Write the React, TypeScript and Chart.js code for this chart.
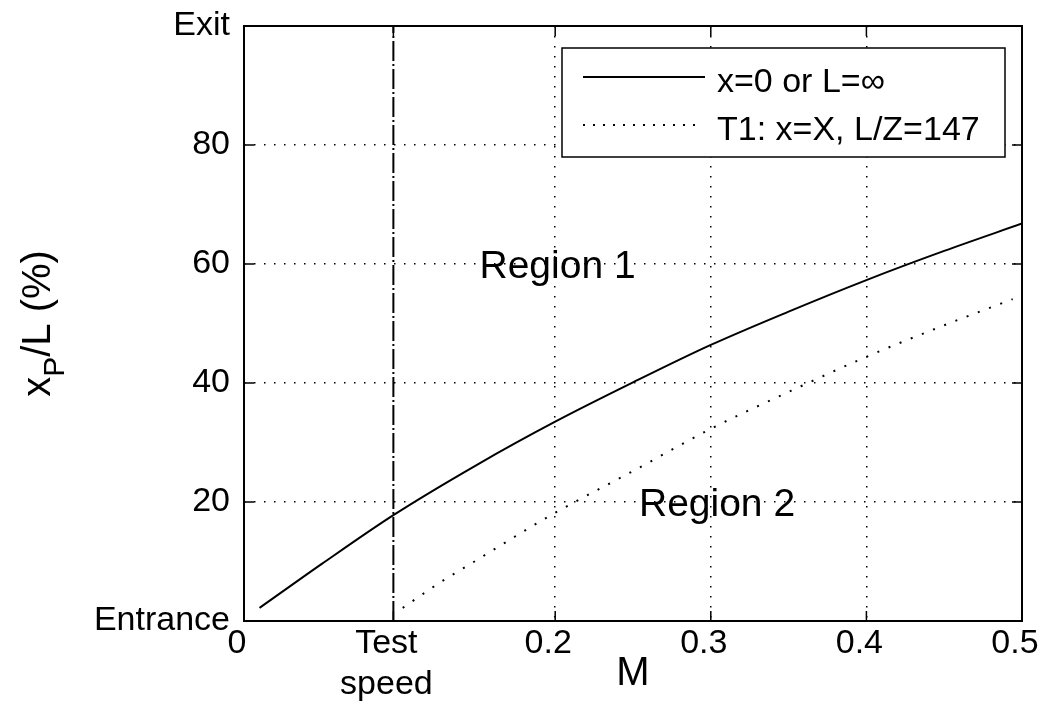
import React, { useEffect, useRef } from 'react';
import { Chart, registerables } from 'chart.js';

Chart.register(...registerables);

// ---- data ----
const mSolid = [0.01, 0.05, 0.096, 0.15, 0.2, 0.25, 0.3, 0.35, 0.4, 0.45, 0.5];
const pSolid = [2.2, 9.6, 17.8, 26.3, 33.5, 40.1, 46.4, 52.0, 57.3, 62.2, 66.8];

const mDotted = [0.102, 0.125, 0.15, 0.183, 0.2, 0.25, 0.3, 0.35, 0.4, 0.45, 0.494];
const pDotted = [2.2, 6.3, 10.3, 15.6, 18.2, 25.2, 32.3, 38.5, 44.4, 49.7, 54.1];

const testSpeed = 0.096;
const testLineY = [0, 100];

const xTickValues = [0, 0.096, 0.2, 0.3, 0.4, 0.5];
const xTickLabels: (string | string[])[] = ['0', ['Test', 'speed'], '0.2', '0.3', '0.4', '0.5'];
const xGridValues = [0.2, 0.3, 0.4];

const yTickValues = [0, 20, 40, 60, 80, 100];
const yTickLabels = ['Entrance', '20', '40', '60', '80', 'Exit'];
const yGridValues = [20, 40, 60, 80];

const legendLabels = ['x=0 or L=\u221E', 'T1: x=X, L/Z=147'];
const regionLabels = ['Region 1', 'Region 2'];
const regionM = [0.2015, 0.304];
const regionP = [60, 20];

const xTitle = 'M';
const yTitleParts = ['x', 'P', '/L (%)'];

const FONT = '"Liberation Sans", Arial, sans-serif';

const decorPlugin = {
  id: 'decor',
  afterDraw(chart: any) {
    const { ctx, chartArea } = chart;
    const xs = chart.scales.x;
    const ys = chart.scales.y;
    const { left, right, top, bottom } = chartArea;

    ctx.save();
    // axes box
    ctx.strokeStyle = '#000';
    ctx.lineWidth = 2;
    ctx.setLineDash([]);
    ctx.strokeRect(left, top, right - left, bottom - top);

    // inward tick marks
    ctx.lineWidth = 1.5;
    const tl = 10;
    ctx.beginPath();
    xTickValues.forEach((v) => {
      const px = xs.getPixelForValue(v);
      ctx.moveTo(px, bottom);
      ctx.lineTo(px, bottom - tl);
      ctx.moveTo(px, top);
      ctx.lineTo(px, top + tl);
    });
    yTickValues.forEach((v) => {
      const py = ys.getPixelForValue(v);
      ctx.moveTo(left, py);
      ctx.lineTo(left + tl, py);
      ctx.moveTo(right, py);
      ctx.lineTo(right - tl, py);
    });
    ctx.stroke();

    // region labels
    ctx.fillStyle = '#000';
    ctx.font = `39px ${FONT}`;
    ctx.textAlign = 'center';
    ctx.textBaseline = 'alphabetic';
    regionLabels.forEach((t, i) => {
      const px = xs.getPixelForValue(regionM[i]);
      const py = ys.getPixelForValue(regionP[i]);
      ctx.fillText(t, px, py + 14);
    });

    // legend
    const bx = right - 17;
    const lx = bx - 443;
    const ty = top + 22;
    ctx.fillStyle = '#fff';
    ctx.fillRect(lx, ty, 443, 109);
    ctx.strokeStyle = '#000';
    ctx.lineWidth = 1.5;
    ctx.strokeRect(lx, ty, 443, 109);

    ctx.lineWidth = 2;
    ctx.beginPath();
    ctx.moveTo(lx + 21, ty + 29);
    ctx.lineTo(lx + 143, ty + 29);
    ctx.stroke();

    ctx.setLineDash([2, 8]);
    ctx.beginPath();
    ctx.moveTo(lx + 21, ty + 77);
    ctx.lineTo(lx + 141, ty + 77);
    ctx.stroke();
    ctx.setLineDash([]);

    ctx.fillStyle = '#000';
    ctx.font = `34px ${FONT}`;
    ctx.textAlign = 'left';
    ctx.fillText(legendLabels[0], lx + 155, ty + 44);
    ctx.fillText(legendLabels[1], lx + 155, ty + 92);

    // y title with subscript
    ctx.translate(50, (top + bottom) / 2);
    ctx.rotate(-Math.PI / 2);
    ctx.font = `40px ${FONT}`;
    const w1 = ctx.measureText(yTitleParts[0]).width;
    const w3 = ctx.measureText(yTitleParts[2]).width;
    ctx.font = `30px ${FONT}`;
    const w2 = ctx.measureText(yTitleParts[1]).width;
    let x0 = -(w1 + w2 + w3) / 2;
    ctx.font = `40px ${FONT}`;
    ctx.fillText(yTitleParts[0], x0, 0);
    x0 += w1;
    ctx.font = `30px ${FONT}`;
    ctx.fillText(yTitleParts[1], x0, 14);
    x0 += w2;
    ctx.font = `40px ${FONT}`;
    ctx.fillText(yTitleParts[2], x0, 0);

    ctx.restore();
  },
};

export default function App() {
  const ref = useRef<HTMLCanvasElement | null>(null);

  useEffect(() => {
    if (!ref.current) return;
    const chart = new Chart(ref.current, {
      type: 'line',
      data: {
        datasets: [
          {
            label: legendLabels[0],
            data: mSolid.map((m, i) => ({ x: m, y: pSolid[i] })),
            borderColor: '#000',
            borderWidth: 2,
            pointRadius: 0,
            cubicInterpolationMode: 'monotone',
          },
          {
            label: legendLabels[1],
            data: mDotted.map((m, i) => ({ x: m, y: pDotted[i] })),
            borderColor: '#000',
            borderWidth: 2,
            borderDash: [2, 10],
            pointRadius: 0,
            cubicInterpolationMode: 'monotone',
          },
          {
            label: 'Test speed',
            data: testLineY.map((y) => ({ x: testSpeed, y })),
            borderColor: '#000',
            borderWidth: 2,
            borderDash: [20, 3, 2, 3],
            pointRadius: 0,
          },
        ],
      },
      options: {
        responsive: false,
        animation: false,
        layout: { padding: { left: 0, top: 26, right: 20, bottom: 0 } },
        plugins: {
          legend: { display: false },
          tooltip: { enabled: false },
        },
        scales: {
          x: {
            type: 'linear',
            min: 0,
            max: 0.5,
            afterBuildTicks: (s: any) => {
              s.ticks = xTickValues.map((v) => ({ value: v }));
            },
            afterFit: (s: any) => {
              s.height = 86;
              s.paddingLeft = 0;
              s.paddingRight = 0;
            },
            ticks: {
              autoSkip: false,
              maxRotation: 0,
              minRotation: 0,
              padding: 2,
              labelOffset: -7,
              color: '#000',
              font: { family: FONT, size: 34, lineHeight: 1.2 },
              callback: (_v: any, i: number) => xTickLabels[i],
            },
            grid: {
              drawTicks: false,
              lineWidth: 1.5,
              color: (c: any) =>
                c.tick && xGridValues.includes(c.tick.value) ? '#000' : 'rgba(0,0,0,0)',
            },
            border: { display: false, dash: [1.5, 8.5] },
            title: {
              display: true,
              text: xTitle,
              color: '#000',
              font: { family: FONT, size: 40, lineHeight: 1.2 },
              padding: { top: 0, bottom: 9 },
            },
          },
          y: {
            type: 'linear',
            min: 0,
            max: 100,
            afterBuildTicks: (s: any) => {
              s.ticks = yTickValues.map((v) => ({ value: v }));
            },
            afterFit: (s: any) => {
              s.width = 244;
              s.paddingTop = 0;
              s.paddingBottom = 0;
            },
            ticks: {
              autoSkip: false,
              padding: 14,
              color: '#000',
              font: { family: FONT, size: 34 },
              callback: (_v: any, i: number) => yTickLabels[i],
            },
            grid: {
              drawTicks: false,
              lineWidth: 1.5,
              color: (c: any) =>
                c.tick && yGridValues.includes(c.tick.value) ? '#000' : 'rgba(0,0,0,0)',
            },
            border: { display: false, dash: [1.5, 8.5] },
          },
        },
      },
      plugins: [decorPlugin],
    } as any);
    return () => chart.destroy();
  }, []);

  return (
    <div style={{ position: 'absolute', left: 0, top: 0, width: 1042, height: 707, background: '#fff' }}>
      <canvas ref={ref} width={1042} height={707} />
    </div>
  );
}
